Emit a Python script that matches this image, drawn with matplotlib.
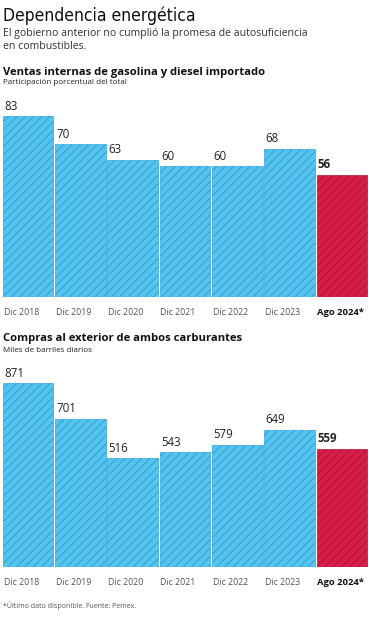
import matplotlib.pyplot as plt

periodos = ["Dic 2018", "Dic 2019", "Dic 2020", "Dic 2021", "Dic 2022", "Dic 2023", "Ago 2024*"]
ventas_pct = [83, 70, 63, 60, 60, 68, 56]
compras_mbd = [871, 701, 516, 543, 579, 649, 559]

AZUL = "#55c4ee"
AZUL_RAYA = "#34a3d6"
ROJO = "#d81e48"
ROJO_RAYA = "#b0143a"

plt.rcParams['font.family'] = ['Open Sans', 'DejaVu Sans']
plt.rcParams['hatch.linewidth'] = 0.8

W, H = 369, 620
fig = plt.figure(figsize=(W / 100, H / 100), dpi=100)


def px_axes(x0, y_top, x1, y_base):
    # pixel coords -> figure fraction
    return fig.add_axes([x0 / W, 1 - y_base / H, (x1 - x0) / W, (y_base - y_top) / H])


def panel(ax, valores):
    n = len(valores)
    colores = [AZUL] * (n - 1) + [ROJO]
    rayas = [AZUL_RAYA] * (n - 1) + [ROJO_RAYA]
    x = list(range(n))
    ax.bar(x, valores, width=0.965, color=colores, edgecolor=rayas,
           linewidth=0.5, hatch="////")
    ax.set_xlim(-0.5, n - 0.5)
    ax.set_ylim(0, max(valores))
    for i, v in enumerate(valores):
        ax.annotate(str(v), (i - 0.46, v), xytext=(0, 2.5), textcoords="offset points",
                    ha="left", va="bottom", fontsize=8.3, color="#222222",
                    fontweight="bold" if i == n - 1 else "normal",
                    annotation_clip=False)
    ax.set_xticks([i - 0.47 for i in x])
    ax.set_xticklabels(periodos, ha="left", fontsize=6.3, color="#555555")
    ultimo = ax.get_xticklabels()[-1]
    ultimo.set_fontweight("bold")
    ultimo.set_color("#111111")
    ultimo.set_fontsize(6.8)
    ax.tick_params(axis="x", length=0, pad=8)
    ax.set_yticks([])
    for s in ax.spines.values():
        s.set_visible(False)
    ax.patch.set_alpha(0)


ax1 = px_axes(2, 116, 368, 297)
panel(ax1, ventas_pct)

ax2 = px_axes(2, 383, 368, 567)
panel(ax2, compras_mbd)

fig.text(3 / W, 1 - 16 / H, "Dependencia energética", fontsize=12.5,
         family=['DejaVu Sans'], stretch="condensed", va="center", ha="left",
         color="#111111")
fig.text(3 / W, 1 - 40 / H,
         "El gobierno anterior no cumplió la promesa de autosuficiencia\nen combustibles.",
         fontsize=7.6, va="center", ha="left", color="#333333", linespacing=1.2)

fig.text(3 / W, 1 - 72 / H, "Ventas internas de gasolina y diesel importado",
         fontsize=8.1, fontweight="bold", va="center", ha="left", color="#111111")
fig.text(3 / W, 1 - 83 / H, "Participación porcentual del total",
         fontsize=5.8, va="center", ha="left", color="#222222")

fig.text(3 / W, 1 - 339 / H, "Compras al exterior de ambos carburantes",
         fontsize=8.1, fontweight="bold", va="center", ha="left", color="#111111")
fig.text(3 / W, 1 - 351 / H, "Miles de barriles diarios",
         fontsize=5.8, va="center", ha="left", color="#222222")

fig.text(3 / W, 1 - 606 / H, "*Último dato disponible. Fuente: Pemex.",
         fontsize=5, va="center", ha="left", color="#555555")

fig.savefig("out.png", dpi=100)
